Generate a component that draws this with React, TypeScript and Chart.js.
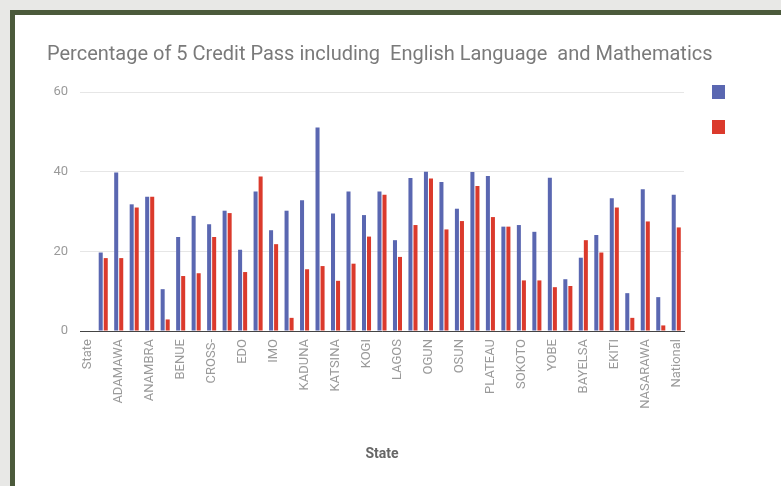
import React, { useEffect, useRef } from "react";
import { Chart, registerables } from "chart.js";

Chart.register(...registerables);

const categories = [
  "State", "ABIA", "ADAMAWA", "AKWA IBOM", "ANAMBRA", "BAUCHI", "BENUE", "BORNO",
  "CROSS-", "DELTA", "EDO", "ENUGU", "IMO", "JIGAWA", "KADUNA", "KANO", "KATSINA",
  "KEBBI", "KOGI", "KWARA", "LAGOS", "NIGER", "OGUN", "ONDO", "OSUN", "OYO",
  "PLATEAU", "RIVERS", "SOKOTO", "TARABA", "YOBE", "ZAMFARA", "BAYELSA", "EBONYI",
  "EKITI", "GOMBE", "NASARAWA", "FCT", "National",
];

const seriesBlue = [
  null, 19.7, 39.8, 31.8, 33.7, 10.5, 23.6, 28.9, 26.8, 30.2, 20.4, 35.0, 25.3,
  30.2, 32.8, 51.1, 29.5, 35.0, 29.1, 35.0, 22.8, 38.4, 40.0, 37.4, 30.7, 39.9,
  38.9, 26.2, 26.6, 24.9, 38.5, 13.0, 18.4, 24.1, 33.3, 9.5, 35.6, 8.5, 34.2,
];

const seriesRed = [
  null, 18.3, 18.3, 31.0, 33.7, 2.9, 13.8, 14.5, 23.6, 29.6, 14.8, 38.8, 21.8,
  3.3, 15.5, 16.3, 12.6, 16.9, 23.7, 34.2, 18.6, 26.6, 38.3, 25.5, 27.6, 36.4,
  28.6, 26.2, 12.7, 12.7, 11.0, 11.3, 22.8, 19.7, 31.0, 3.3, 27.5, 1.4, 26.0,
];

const yTicks = [0, 20, 40, 60];

const titleText =
  "Percentage of 5 Credit Pass including  English Language  and Mathematics";
const xAxisTitle = "State";

const BLUE = "#5a67b1";
const RED = "#db3a2c";

const decoPlugin = {
  id: "deco",
  afterDraw(chart: any) {
    const ctx = chart.ctx;
    ctx.save();
    ctx.fillStyle = "#7a7a7a";
    ctx.font = "20px Roboto";
    ctx.textAlign = "left";
    ctx.textBaseline = "middle";
    ctx.fillText(titleText, 32, 40);
    const lx = chart.chartArea.right + 28;
    ctx.fillStyle = BLUE;
    ctx.fillRect(lx, 70, 13, 14);
    ctx.fillStyle = RED;
    ctx.fillRect(lx, 105, 13, 14);
    ctx.restore();
  },
};

export default function App() {
  const ref = useRef<HTMLCanvasElement | null>(null);

  useEffect(() => {
    if (!ref.current) return;
    const chart = new Chart(ref.current, {
      type: "bar",
      data: {
        labels: categories,
        datasets: [
          {
            label: "Series 1",
            data: seriesBlue,
            backgroundColor: BLUE,
            categoryPercentage: 0.65,
            barPercentage: 0.8,
          },
          {
            label: "Series 2",
            data: seriesRed,
            backgroundColor: RED,
            categoryPercentage: 0.65,
            barPercentage: 0.8,
          },
        ],
      },
      options: {
        responsive: false,
        animation: false,
        layout: { padding: { left: 32, top: 77, right: 97, bottom: 0 } },
        plugins: {
          legend: { display: false },
          title: { display: false },
          tooltip: { enabled: false },
        },
        scales: {
          x: {
            grid: { display: false },
            border: { color: "#444", width: 1 },
            ticks: {
              autoSkip: false,
              maxRotation: 90,
              minRotation: 90,
              padding: 0,
              color: "#9a9a9a",
              font: { family: "Roboto", size: 13 },
              callback: (_v: any, i: number) => (i % 2 === 0 ? categories[i] : ""),
            },
            title: {
              display: true,
              text: xAxisTitle,
              color: "#666",
              font: { family: "Roboto", size: 14, weight: "bold" },
              padding: { top: 23, bottom: 23 },
            },
            afterFit: (s: any) => {
              s.height = 155;
            },
          },
          y: {
            min: 0,
            max: 60,
            afterBuildTicks: (s: any) => {
              s.ticks = yTicks.map((v) => ({ value: v }));
            },
            grid: { color: "#e6e6e6", drawTicks: false },
            border: { display: false },
            ticks: {
              padding: 12,
              color: "#9a9a9a",
              font: { family: "Roboto", size: 13 },
            },
            afterFit: (s: any) => {
              s.width = 33;
            },
          },
        },
      },
      plugins: [decoPlugin],
    });
    return () => chart.destroy();
  }, []);

  return (
    <div style={{ position: "fixed", inset: 0, background: "#e8e8e6" }}>
      <div
        style={{
          position: "absolute",
          left: 10,
          top: 10,
          right: 0,
          bottom: 0,
          borderTop: "5px solid #4b5a3b",
          borderLeft: "5px solid #4b5a3b",
          background: "#ffffff",
        }}
      >
        <canvas ref={ref} width={766} height={471} style={{ display: "block" }} />
      </div>
    </div>
  );
}
